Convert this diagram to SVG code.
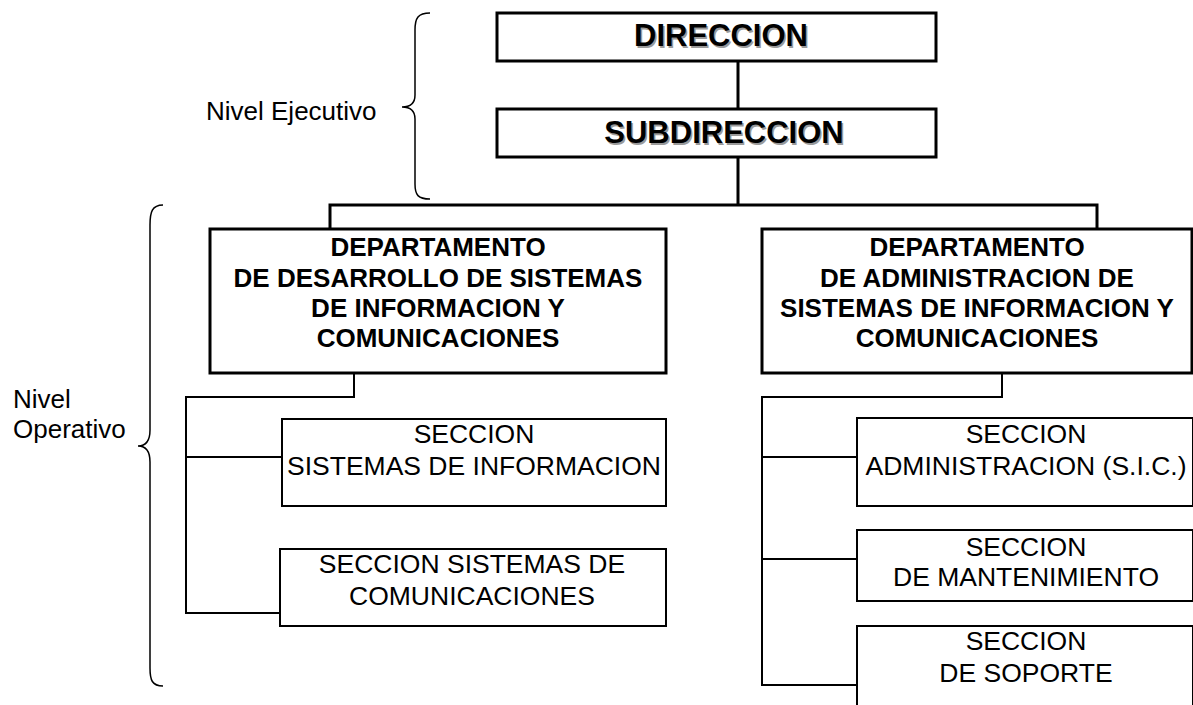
<svg xmlns="http://www.w3.org/2000/svg" width="1193" height="705" viewBox="0 0 1193 705">
<style>
.thick{fill:#fff;stroke:#000;stroke-width:3}
.thin{fill:#fff;stroke:#000;stroke-width:2}
.ct{fill:none;stroke:#000;stroke-width:3}
.cn{fill:none;stroke:#000;stroke-width:2}
.brace{fill:none;stroke:#000;stroke-width:1.5}
.t{font-family:"Liberation Sans",Arial,sans-serif;text-anchor:middle;fill:#000}
.big{font-size:31px;font-weight:bold}
.shadow{fill:#9a9a9a}
.dept{font-size:26px;font-weight:bold}
.sec{font-size:26.5px}
.lbl{font-family:"Liberation Sans",Arial,sans-serif;font-size:26px;fill:#000}
</style>
<rect width="1193" height="705" fill="#fff"/>
<g id="connectors">
<path class="ct" d="M738,61 V109 M738,157 V205 M330,229 V205 H1097 V229"/>
<path class="cn" d="M354,373 V397 H186 V613 H283 M186,457 H282"/>
<path class="cn" d="M1002,373 V397 H762 V685 H857 M762,457 H857 M762,559 H857"/>
</g>
<g id="brace-ejecutivo">
<path class="brace" d="M430,13 C418,13 415,18 415,30 L415,95 C415,103 410,107 402,107 C410,107 415,111 415,119 L415,184 C415,195 418,199 430,199"/>
<text class="lbl" x="206" y="120">Nivel Ejecutivo</text>
</g>
<g id="brace-operativo">
<path class="brace" d="M163,205 C152,205 150,212 150,225 L150,430 C150,440 146,446 138,446 C146,446 150,452 150,462 L150,668 C150,680 152,686 163,686"/>
<text class="lbl" x="13" y="408">Nivel</text>
<text class="lbl" x="13" y="438">Operativo</text>
</g>
<g id="direccion">
<rect class="thick" x="497" y="13" width="439" height="48"/>
<text class="t big shadow" x="722.5" y="47.5">DIRECCION</text>
<text class="t big" x="721" y="46">DIRECCION</text>
</g>
<g id="subdireccion">
<rect class="thick" x="497" y="109" width="439" height="48"/>
<text class="t big shadow" x="725.5" y="144.5">SUBDIRECCION</text>
<text class="t big" x="724" y="143">SUBDIRECCION</text>
</g>
<g id="dept-desarrollo">
<rect class="thick" x="210" y="229" width="456" height="144"/>
<text class="t dept" x="438" y="256">DEPARTAMENTO</text>
<text class="t dept" x="438" y="286.5">DE DESARROLLO DE SISTEMAS</text>
<text class="t dept" x="438" y="317">DE INFORMACION Y</text>
<text class="t dept" x="438" y="347">COMUNICACIONES</text>
</g>
<g id="dept-administracion">
<rect class="thick" x="762" y="229" width="430" height="144"/>
<text class="t dept" x="977" y="256">DEPARTAMENTO</text>
<text class="t dept" x="977" y="286.5">DE ADMINISTRACION DE</text>
<text class="t dept" x="977" y="317">SISTEMAS DE INFORMACION Y</text>
<text class="t dept" x="977" y="347">COMUNICACIONES</text>
</g>
<g id="sec-sistemas-informacion">
<rect class="thin" x="282" y="419" width="384" height="87"/>
<text class="t sec" x="474" y="443">SECCION</text>
<text class="t sec" x="474" y="475">SISTEMAS DE INFORMACION</text>
</g>
<g id="sec-sistemas-comunicaciones">
<rect class="thin" x="280" y="549" width="386" height="77"/>
<text class="t sec" x="472" y="573">SECCION SISTEMAS DE</text>
<text class="t sec" x="472" y="605">COMUNICACIONES</text>
</g>
<g id="sec-administracion">
<rect class="thin" x="857" y="418" width="336" height="88"/>
<text class="t sec" x="1026" y="443">SECCION</text>
<text class="t sec" x="1026" y="475">ADMINISTRACION (S.I.C.)</text>
</g>
<g id="sec-mantenimiento">
<rect class="thin" x="857" y="530" width="336" height="71"/>
<text class="t sec" x="1026" y="556">SECCION</text>
<text class="t sec" x="1026" y="586">DE MANTENIMIENTO</text>
</g>
<g id="sec-soporte">
<rect class="thin" x="857" y="626" width="336" height="90"/>
<text class="t sec" x="1026" y="650">SECCION</text>
<text class="t sec" x="1026" y="682">DE SOPORTE</text>
</g>
</svg>
